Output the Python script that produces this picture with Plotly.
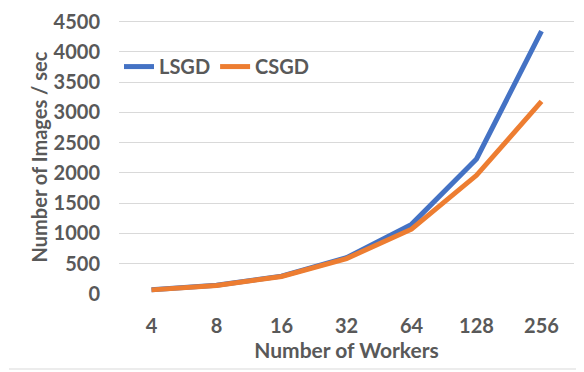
import plotly.graph_objects as go

workers = ["4", "8", "16", "32", "64", "128", "256"]
lsgd = [70, 145, 295, 600, 1150, 2230, 4340]
csgd = [68, 140, 290, 585, 1070, 1960, 3180]

grey = "#595959"
font_family = "Lato, 'Open Sans', sans-serif"

fig = go.Figure()

fig.add_trace(go.Scatter(
    x=workers, y=lsgd, mode="lines", name="LSGD",
    line=dict(color="#4472C4", width=5)
))
fig.add_trace(go.Scatter(
    x=workers, y=csgd, mode="lines", name="CSGD",
    line=dict(color="#ED7D31", width=5)
))

# the page body has an 8px margin, so the figure is a bit smaller than the window
fig.update_layout(
    width=576, height=364,
    margin=dict(l=111, r=10, t=12, b=78),
    paper_bgcolor="white", plot_bgcolor="white",
    font=dict(family=font_family, size=20, color=grey, weight="bold"),
    showlegend=True,
    legend=dict(
        orientation="h", x=0.0, y=0.83, xanchor="left", yanchor="middle",
        bgcolor="rgba(0,0,0,0)", font=dict(size=20, color=grey),
        itemwidth=30, tracegroupgap=0,
    ),
    xaxis=dict(
        type="category", range=[-0.5, 6.5], automargin=False,
        showgrid=False, showline=False, zeroline=False,
        ticklabelstandoff=18,
        title=dict(text="Number of Workers", standoff=4,
                   font=dict(size=21, color=grey)),
    ),
    yaxis=dict(
        range=[0, 4525], tickvals=[0, 500, 1000, 1500, 2000, 2500, 3000, 3500, 4000, 4500],
        automargin=False,
        showgrid=True, gridcolor="#D9D9D9", gridwidth=1,
        showline=False, zeroline=False,
        ticklabelstandoff=18, ticklabeloverflow="allow",
        title=dict(text="Number of Images / sec", standoff=0,
                   font=dict(size=20, color=grey)),
    ),
    shapes=[
        dict(type="line", xref="paper", yref="paper",
             x0=1 + 8 / 455, x1=1 + 8 / 455, y0=-75 / 274, y1=1 + 11 / 274,
             line=dict(color="#D9D9D9", width=1)),
        dict(type="line", xref="paper", yref="paper",
             x0=-110 / 455, x1=1 + 8 / 455, y0=-75 / 274, y1=-75 / 274,
             line=dict(color="#D9D9D9", width=1)),
    ],
)

fig.write_html("out.html")
